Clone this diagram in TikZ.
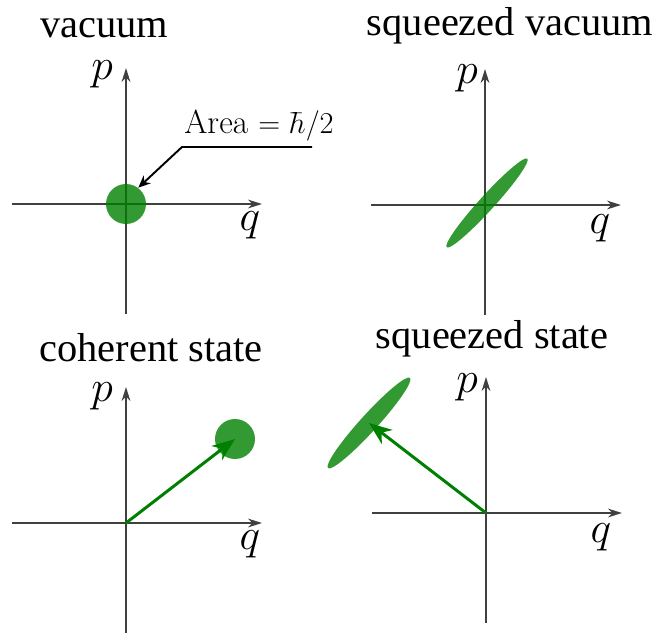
\documentclass[tikz,border=0pt]{standalone}
\usepackage{fontspec}
\usepackage{tikz}
\usetikzlibrary{positioning,arrows.meta,shapes.geometric}
\newfontfamily\titlefont{Liberation Serif}
\definecolor{axiscolor}{RGB}{64,64,64}
\definecolor{statecolor}{RGB}{0,128,0}
\tikzset{
  axis line/.style={
    draw=axiscolor,
    line width=1.1pt,
    -{Stealth[length=8pt,width=5pt]}
  },
  panel title/.style={
    anchor=base,
    inner sep=0pt,
    font=\titlefont\fontsize{23}{27}\selectfont
  },
  axis label/.style={
    inner sep=0pt,
    font=\fontsize{23}{27}\selectfont
  },
  state blob/.style={
    fill=statecolor,
    fill opacity=0.8,
    inner sep=0pt
  },
  state arrow/.style={
    draw=statecolor,
    line width=1.7pt,
    -{Stealth[length=13pt,width=10pt,inset=4pt]}
  },
  leader/.style={
    draw=black,
    line width=1.1pt,
    -{Stealth[length=7pt,width=6pt]}
  }
}

\begin{document}
\begin{tikzpicture}[x=0.02cm,y=0.02cm]
  \useasboundingbox (0,0) rectangle (659,633);

  % origins of the four phase spaces
  \coordinate (o1) at (126,429);
  \coordinate (o2) at (485,428);
  \coordinate (o3) at (126,110);
  \coordinate (o4) at (486,120);

  % axes
  \foreach \o/\px/\py/\qx/\qy in {o1/-24/130/124/-21, o2/-18/127/115/-23,
                                   o3/-24/127/124/-21, o4/-19/126/115/-24} {
    \draw[axis line] (\o) ++(-114,0) -- ++(250,0);
    \draw[axis line] (\o) ++(0,-110) -- ++(0,246);
    \node[axis label] (p\o) at ([shift={(\px,\py)}]\o) {$p$};
    \node[axis label] (q\o) at ([shift={(\qx,\qy)}]\o) {$q$};
  }

  % titles
  \node[panel title] (t1) at (104,595) {vacuum};
  \node[panel title] (t2) at (510,597) {squeezed vacuum};
  \node[panel title] (t3) at (151,272) {coherent state};
  \node[panel title] (t4) at (492,285) {squeezed state};

  % states
  \node[state blob, circle, minimum size=0.8cm] (vac) at (o1) {};
  \node[state blob, ellipse, minimum width=2.4cm, minimum height=0.3cm,
        rotate=47.7] (sqv) at (487,430) {};
  \node[state blob, circle, minimum size=0.8cm] (coh) at (235,194) {};
  \node[state blob, ellipse, minimum width=2.44cm, minimum height=0.34cm,
        rotate=47.7] (sqs) at (369,210) {};

  \draw[state arrow] (o3) -- (coh.center);
  \draw[state arrow] (o4) -- (sqs.center);

  % area label
  \node[anchor=base, inner sep=1pt, font=\fontsize{19}{22}\selectfont] (area)
    at (259,499) {Area $=\hbar/2$};
  \coordinate (lead) at (312,486);
  \coordinate (knee) at (182,486);
  \draw[leader] (lead) -- (knee) -- (vac.53);
\end{tikzpicture}
\end{document}
